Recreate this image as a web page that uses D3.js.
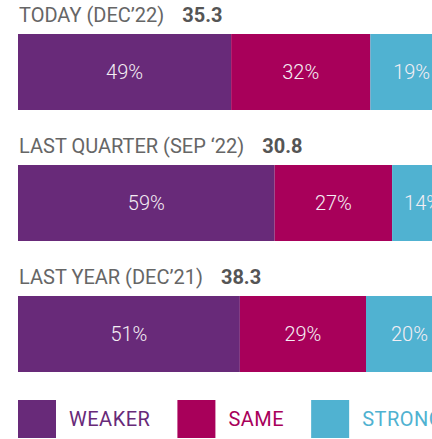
<!DOCTYPE html>
<html>
<head>
<meta charset="utf-8">
<script src="https://cdn.jsdelivr.net/npm/d3@7"></script>
<style>
    html, body { margin: 0; padding: 0; overflow: hidden; background: #fff; }
    svg { display: block; font-family: Roboto, "Noto Sans", sans-serif; }
</style>
</head>
<body>
<script>
var periods = ['TODAY (DEC\u201922)', 'LAST QUARTER (SEP \u201822)', 'LAST YEAR (DEC\u201921)'];
var indexValues = ['35.3', '30.8', '38.3'];
var categories = ['WEAKER', 'SAME', 'STRONGER'];
var weaker = [49, 59, 51];
var same = [32, 27, 29];
var stronger = [19, 14, 20];
var colors = ['#682a79', '#a8005a', '#50b2d1'];

var width = 470;
var height = 439;
var left = 18;
var barHeight = 76;

var rows = periods.map(function (p, i) {
    return {period: p, value: indexValues[i], WEAKER: weaker[i], SAME: same[i], STRONGER: stronger[i]};
});
var stacked = d3.stack().keys(categories)(rows);

var x = d3.scaleLinear().domain([0, 100]).range([left, left + 435]);
var y = d3.scalePoint().domain(periods).range([34, 296]);
var color = d3.scaleOrdinal().domain(categories).range(colors);

var svg = d3.select('body').append('svg')
    .attr('width', width)
    .attr('height', height);

// row titles
var titles = svg.selectAll('g.title')
    .data(rows)
    .enter()
    .append('g')
    .attr('class', 'title')
    .attr('transform', function (d) { return 'translate(' + (left + 1) + ',' + (y(d.period) - 12) + ')'; });

titles.append('text')
    .attr('class', 'period')
    .attr('font-size', 20)
    .attr('fill', '#666')
    .text(function (d) { return d.period; });

titles.each(function () {
    var g = d3.select(this);
    var w = g.select('text.period').node().getComputedTextLength();
    g.append('text')
        .attr('x', w + 18)
        .attr('font-size', 20)
        .attr('font-weight', 700)
        .attr('fill', '#555')
        .text(function (d) { return d.value; });
});

// stacked bars
var layers = svg.selectAll('g.layer')
    .data(stacked)
    .enter()
    .append('g')
    .attr('class', 'layer')
    .attr('fill', function (d) { return color(d.key); });

layers.selectAll('rect')
    .data(function (d) { return d; })
    .enter()
    .append('rect')
    .attr('x', function (d) { return x(d[0]); })
    .attr('y', function (d) { return y(d.data.period); })
    .attr('width', function (d) { return x(d[1]) - x(d[0]); })
    .attr('height', barHeight);

layers.selectAll('text')
    .data(function (d) { return d; })
    .enter()
    .append('text')
    .attr('x', function (d) { return (x(d[0]) + x(d[1])) / 2; })
    .attr('y', function (d) { return y(d.data.period) + barHeight / 2; })
    .attr('dy', '0.36em')
    .attr('text-anchor', 'middle')
    .attr('font-size', 20)
    .attr('font-weight', 300)
    .attr('fill', '#f4eef4')
    .text(function (d) { return (d[1] - d[0]) + '%'; });

// legend
var legend = svg.append('g').attr('class', 'legend').attr('transform', 'translate(0,400)');
var lx = left;
categories.forEach(function (c) {
    legend.append('rect')
        .attr('x', lx)
        .attr('y', 0)
        .attr('width', 38)
        .attr('height', 38)
        .attr('fill', color(c));
    var t = legend.append('text')
        .attr('x', lx + 51)
        .attr('y', 26)
        .attr('font-size', 20)
        .attr('letter-spacing', 0.5)
        .attr('fill', color(c))
        .text(c);
    lx = lx + 51 + t.node().getComputedTextLength() + 27;
});
</script>
</body>
</html>
